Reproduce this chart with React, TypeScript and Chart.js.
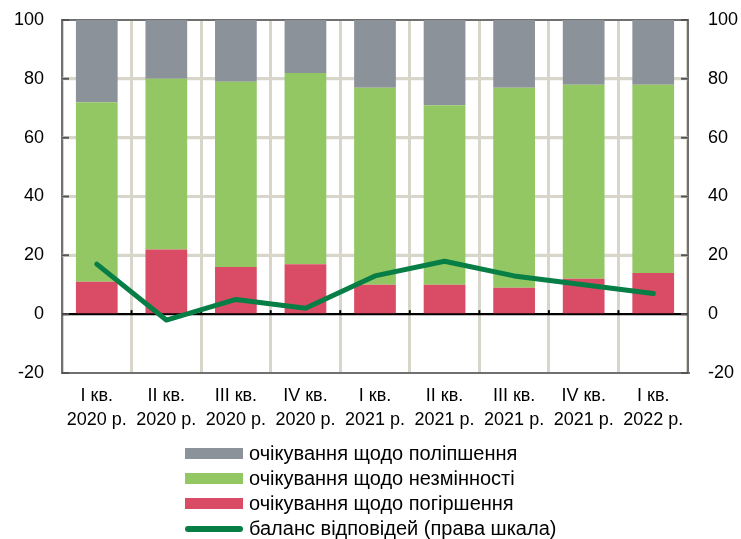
import React, { useEffect, useRef } from "react";
import { Chart, registerables } from "chart.js";

Chart.register(...registerables);

const categories: string[][] = [
  ["I кв.", "2020 р."],
  ["II кв.", "2020 р."],
  ["III кв.", "2020 р."],
  ["IV кв.", "2020 р."],
  ["I кв.", "2021 р."],
  ["II кв.", "2021 р."],
  ["III кв.", "2021 р."],
  ["IV кв.", "2021 р."],
  ["I кв.", "2022 р."],
];

const improve = [28, 20, 21, 18, 23, 29, 23, 22, 22];
const unchanged = [61, 58, 63, 65, 67, 61, 68, 66, 64];
const worsen = [11, 22, 16, 17, 10, 10, 9, 12, 14];
const balance = [17, -2, 5, 2, 13, 18, 13, 10, 7];

const labelImprove = "очікування щодо поліпшення";
const labelUnchanged = "очікування щодо незмінності";
const labelWorsen = "очікування щодо погіршення";
const labelBalance = "баланс відповідей (права шкала)";

const GREY = "#8b9299";
const GREEN = "#92c764";
const RED = "#da4b65";
const LINE = "#077e45";
const GRID = "#d8d6ca";
const BORDER = "#707070";
const FONT = "'Liberation Sans', Arial, sans-serif";

const gridPlugin = {
  id: "customGrid",
  beforeDatasetsDraw(chart: any) {
    const ctx = chart.ctx;
    const area = chart.chartArea;
    const y = chart.scales.y;
    const x = chart.scales.x;
    ctx.save();
    ctx.lineWidth = 3;
    ctx.strokeStyle = GRID;
    y.ticks.forEach((t: any) => {
      if (t.value === 0 || t.value === 100 || t.value === -20) return;
      const py = y.getPixelForValue(t.value);
      ctx.beginPath();
      ctx.moveTo(area.left, py);
      ctx.lineTo(area.right, py);
      ctx.stroke();
    });
    ctx.lineWidth = 2;
    const zy = y.getPixelForValue(0);
    ctx.strokeStyle = "#000";
    ctx.beginPath();
    ctx.moveTo(area.left, zy);
    ctx.lineTo(area.right, zy);
    ctx.stroke();
    ctx.strokeStyle = "#555";
    y.ticks.forEach((t: any) => {
      const py = y.getPixelForValue(t.value);
      ctx.beginPath();
      ctx.moveTo(area.left, py);
      ctx.lineTo(area.left + 7, py);
      ctx.moveTo(area.right - 7, py);
      ctx.lineTo(area.right, py);
      ctx.stroke();
    });
    ctx.strokeStyle = "#000";
    for (let i = 1; i < categories.length; i++) {
      const px = (x.getPixelForValue(i - 1) + x.getPixelForValue(i)) / 2;
      ctx.beginPath();
      ctx.moveTo(px, zy);
      ctx.lineTo(px, zy - 4);
      ctx.stroke();
    }
    ctx.restore();
  },
};

export default function App() {
  const ref = useRef<HTMLCanvasElement>(null);

  useEffect(() => {
    if (!ref.current) return;
    const chart = new Chart(ref.current, {
      type: "bar",
      data: {
        labels: categories,
        datasets: [
          { type: "bar", label: labelWorsen, data: worsen, backgroundColor: RED, stack: "s", order: 1, yAxisID: "y", barPercentage: 0.6, categoryPercentage: 1 },
          { type: "bar", label: labelUnchanged, data: unchanged, backgroundColor: GREEN, stack: "s", order: 1, yAxisID: "y", barPercentage: 0.6, categoryPercentage: 1 },
          { type: "bar", label: labelImprove, data: improve, backgroundColor: GREY, stack: "s", order: 1, yAxisID: "y", barPercentage: 0.6, categoryPercentage: 1 },
          { type: "line", label: labelBalance, data: balance, borderColor: LINE, backgroundColor: LINE, borderWidth: 5, pointRadius: 0, borderCapStyle: "round", borderJoinStyle: "round", tension: 0, order: 0, yAxisID: "y1" } as any,
        ],
      },
      options: {
        animation: false,
        responsive: false,
        layout: { padding: { top: 20, left: 0, right: 0, bottom: 0 } },
        plugins: { legend: { display: false }, tooltip: { enabled: false } },
        scales: {
          x: {
            stacked: true,
            offset: true,
            grid: { offset: true, color: GRID, lineWidth: 3, drawTicks: false },
            border: { display: true, color: BORDER, width: 2 },
            ticks: { color: "#000", font: { family: FONT, size: 18, lineHeight: 1.28 }, padding: 12, maxRotation: 0, autoSkip: false },
            afterFit(scale: any) { scale.height = 539 - 373; scale.paddingLeft = 0; scale.paddingRight = 0; },
          },
          y: {
            stacked: true,
            min: -20,
            max: 100,
            position: "left",
            grid: {
              color: (c: any) => c.tick && c.tick.value === 0 ? "#000" : c.tick && (c.tick.value === 100 || c.tick.value === -20) ? BORDER : GRID,
              lineWidth: (c: any) => (c.tick && (c.tick.value === 0 || c.tick.value === 100 || c.tick.value === -20) ? 2 : 3),
              drawTicks: false,
            },
            border: { display: true, color: BORDER, width: 2 },
            ticks: { stepSize: 20, color: "#000", font: { family: FONT, size: 18 }, padding: 18 },
            afterFit(scale: any) { scale.width = 62; scale.paddingTop = 0; scale.paddingBottom = 0; },
          },
          y1: {
            min: -20,
            max: 100,
            position: "right",
            grid: { display: false, drawTicks: false },
            border: { display: true, color: BORDER, width: 2 },
            ticks: { stepSize: 20, color: "#000", font: { family: FONT, size: 18 }, padding: 20 },
            afterFit(scale: any) { scale.width = 741 - 688; scale.paddingTop = 0; scale.paddingBottom = 0; },
          },
        },
      },
      plugins: [gridPlugin],
    });
    return () => chart.destroy();
  }, []);

  const legendItems = [
    { label: labelImprove, color: GREY, line: false },
    { label: labelUnchanged, color: GREEN, line: false },
    { label: labelWorsen, color: RED, line: false },
    { label: labelBalance, color: LINE, line: true },
  ];

  return (
    <div style={{ position: "fixed", left: 0, top: 0, width: 741, height: 539, overflow: "hidden", background: "#fff" }}>
      <canvas ref={ref} width={741} height={539} style={{ display: "block" }} />
      <div style={{ position: "absolute", left: 185, top: 441, fontFamily: FONT, fontSize: 20, color: "#000" }}>
        {legendItems.map((it) => (
          <div key={it.label} style={{ display: "flex", alignItems: "center", height: 25, whiteSpace: "nowrap" }}>
            <span
              style={{
                display: "inline-block",
                width: 58,
                height: it.line ? 6 : 11,
                borderRadius: it.line ? 3 : 0,
                background: it.color,
                marginRight: 6,
              }}
            />
            <span style={{ lineHeight: "25px" }}>{it.label}</span>
          </div>
        ))}
      </div>
    </div>
  );
}
